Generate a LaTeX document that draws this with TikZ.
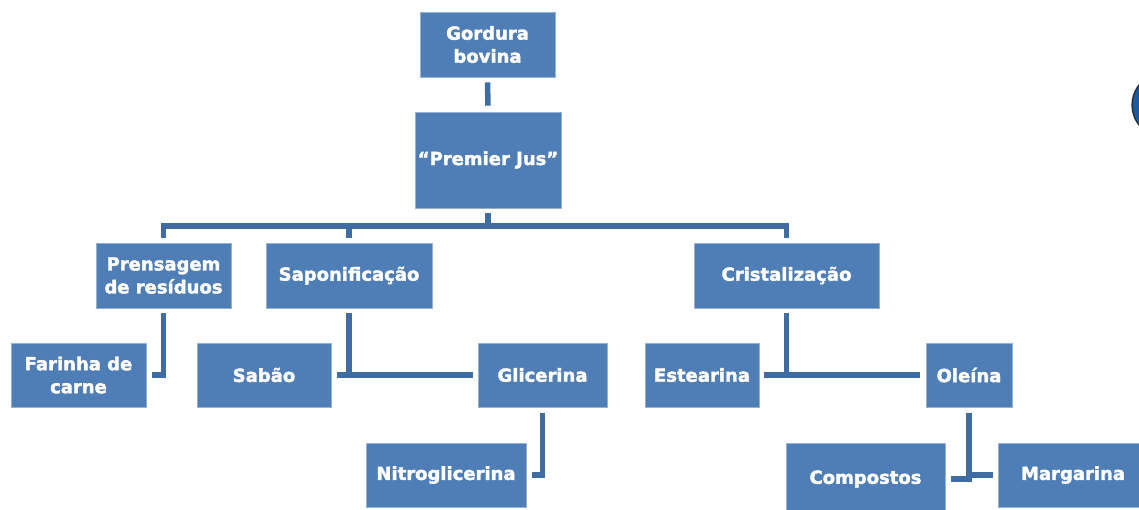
\documentclass[tikz,border=0pt]{standalone}
\usepackage{fontspec}
\setmainfont{DejaVu Sans}[BoldFeatures={FakeBold=2}]
\definecolor{boxblue}{RGB}{79,125,181}
\definecolor{lineblue}{RGB}{62,108,163}
\definecolor{ballblue}{RGB}{28,88,158}
\begin{document}
\begin{tikzpicture}[x=1pt,y=-1pt,
                    main node/.style={rectangle,fill=boxblue,draw=boxblue!60!white,line width=0.6pt,
                      text=white,font=\fontsize{18}{23}\selectfont\bfseries,align=center,
                      inner sep=0pt,minimum height=65pt},
                    link/.style={draw=lineblue,line width=5.5pt}
                   ]
  \clip (0,0) rectangle (1139,509);
  \fill[white] (0,0) rectangle (1139,509);
  \node[main node,minimum width=135pt] (gord) at (487.5,44.5) {Gordura\\bovina};
  \node[main node,minimum width=146pt,minimum height=96pt] (jus) at (488,160) {“Premier Jus”};
  \node[main node,minimum width=135pt] (prens) at (163.5,275.5) {Prensagem\\de resíduos};
  \node[main node,minimum width=166pt] (sapon) at (349,275.5) {Saponificação};
  \node[main node,minimum width=185pt] (crist) at (786.5,275.5) {Cristalização};
  \node[main node,minimum width=135pt,minimum height=64pt] (farinha) at (78.5,375) {Farinha de\\carne};
  \node[main node,minimum width=134pt,minimum height=64pt] (sabao) at (264,375) {Sabão};
  \node[main node,minimum width=129pt,minimum height=64pt] (glic) at (542.5,375) {Glicerina};
  \node[main node,minimum width=114pt,minimum height=64pt] (estear) at (702,375) {Estearina};
  \node[main node,minimum width=86pt,minimum height=64pt] (oleina) at (969,375) {Oleína};
  \node[main node,minimum width=160pt,minimum height=64pt] (nitro) at (446,475) {Nitroglicerina};
  \node[main node,minimum width=159pt,minimum height=72pt] (compostos) at (865.5,479) {Compostos};
  \node[main node,minimum width=150pt,minimum height=64pt] (margarina) at (1073,475) {Margarina};
  \coordinate (bus) at (488,226);
  \filldraw[fill=ballblue,draw=black!85,line width=1.2pt] (1164,105) circle (32pt);
  \draw[link] ([yshift=-5pt]gord.south) -- ([yshift=6pt]jus.north);
  \draw[link] ([yshift=-5pt]jus.south) -- (bus);
  \draw[link] ([yshift=5pt]prens.north) |- (bus) -| ([yshift=5pt]crist.north);
  \draw[link] ([yshift=5pt]sapon.north) -- (sapon.north |- bus);
  \draw[link] ([yshift=-5pt]prens.south) |- ([xshift=6pt]farinha.east);
  \draw[link] ([yshift=-5pt]sapon.south) -- (sapon.south |- sabao.east);
  \draw[link] ([xshift=6pt]sabao.east) -- ([xshift=-5pt]glic.west);
  \draw[link] ([yshift=-6pt]glic.south) |- ([xshift=6pt]nitro.east);
  \draw[link] ([yshift=-5pt]crist.south) -- (crist.south |- estear.east);
  \draw[link] ([xshift=5pt]estear.east) -- ([xshift=-6pt]oleina.west);
  \draw[link] ([yshift=-6pt]oleina.south) |- ([xshift=6pt]compostos.east);
  \draw[link] (oleina.south |- margarina.west) -- ([xshift=-5pt]margarina.west);
\end{tikzpicture}
\end{document}
